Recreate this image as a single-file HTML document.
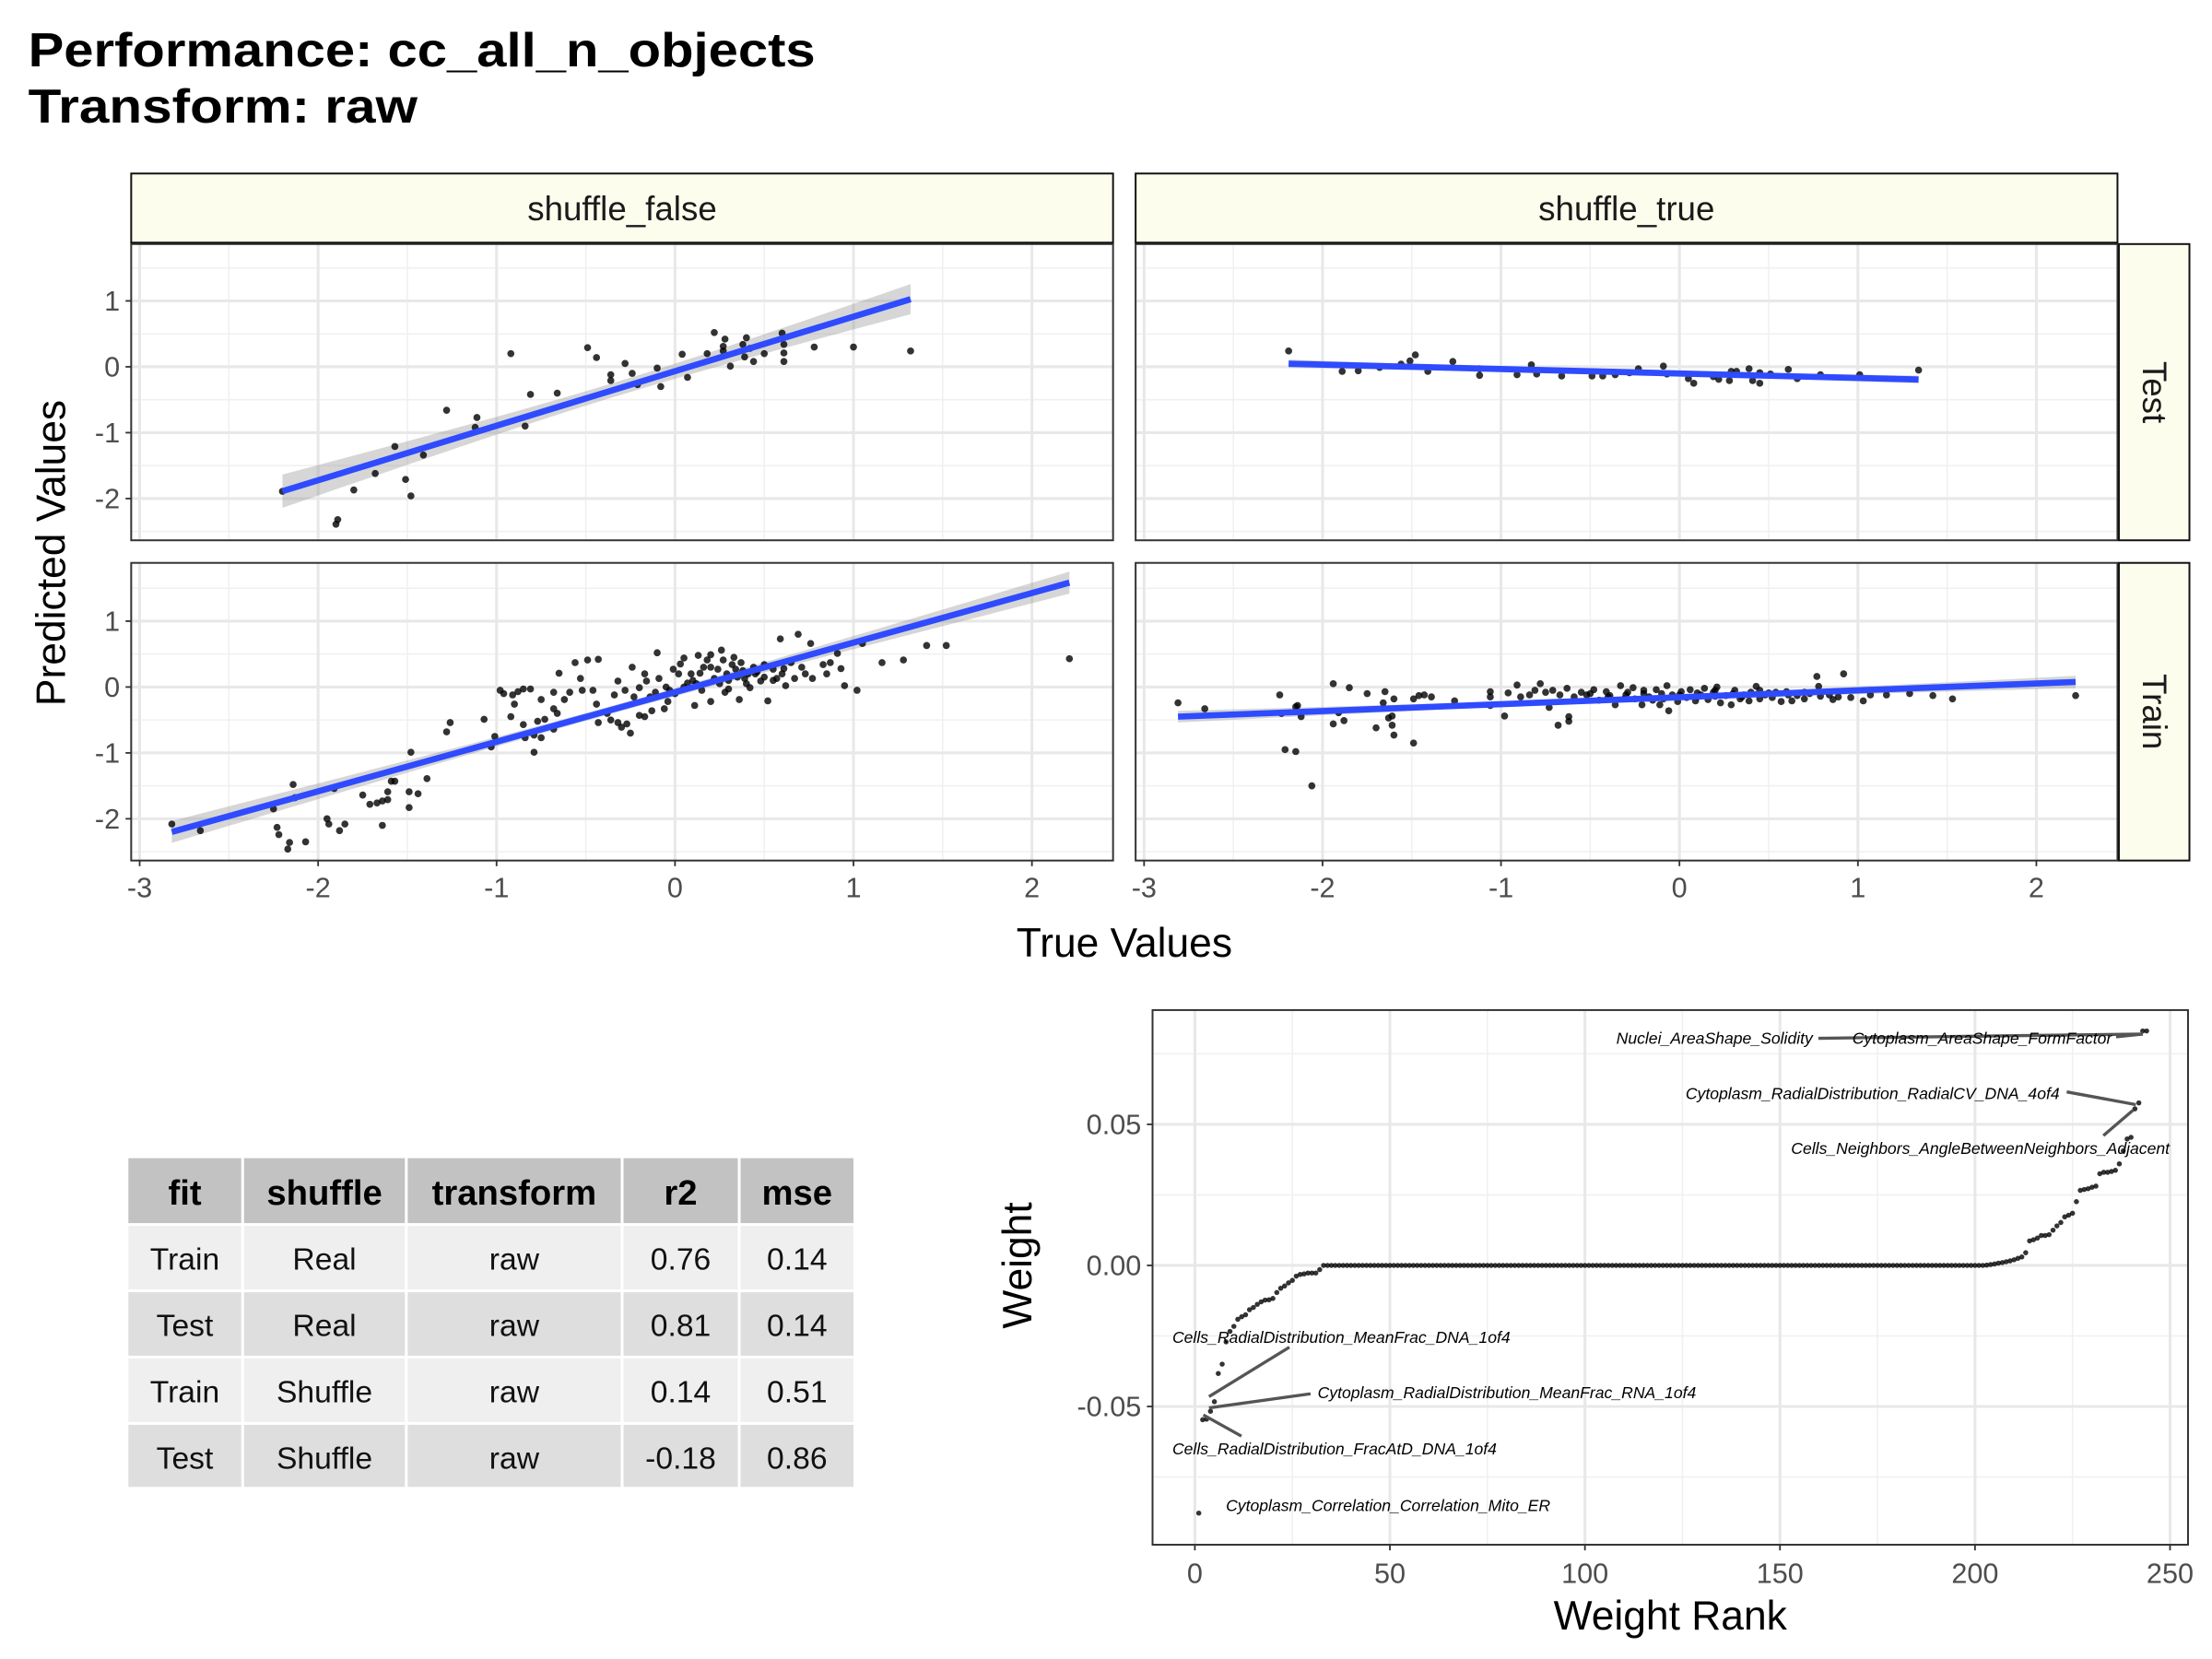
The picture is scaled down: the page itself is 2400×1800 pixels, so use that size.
<!DOCTYPE html>
<html><head><meta charset="utf-8"><style>
html,body{margin:0;padding:0;background:#fff;}
svg{display:block;font-family:"Liberation Sans",Arial,sans-serif;}
</style></head><body>
<svg id="fig" xmlns="http://www.w3.org/2000/svg" width="2400" height="1800" viewBox="0 0 1568 1176">
<rect x="0" y="0" width="1568" height="1176" fill="#fff"/>
<text x="20" y="47" font-size="34" font-weight="bold" fill="#000" textLength="558" lengthAdjust="spacingAndGlyphs">Performance: cc_all_n_objects</text>
<text x="20" y="87" font-size="34" font-weight="bold" fill="#000" textLength="276" lengthAdjust="spacingAndGlyphs">Transform: raw</text>
<g id="facets"></g>
<g id="weights"></g>
<g id="table"></g>
</svg>
<script>
// ---------- scatter data (true, predicted) ----------
const testRealTrue = [-2.20,-1.90,-1.89,-1.80,-1.68,-1.57,-1.51,-1.48,-1.41,-1.28,-1.12,-1.11,-0.92,-0.84,-0.81,-0.66,-0.49,-0.44,-0.36,-0.36,-0.28,-0.24,-0.21,-0.10,-0.08,0.04,0.07,0.18,0.22,0.27,0.28,0.27,0.31,0.38,0.40,0.42,0.44,0.39,0.50,0.60,0.61,0.61,0.61,0.78,1.00,1.32];
const testRealPred = [-1.89,-2.39,-2.32,-1.87,-1.62,-1.21,-1.71,-1.96,-1.34,-0.66,-0.92,-0.77,0.20,-0.90,-0.42,-0.40,0.29,0.14,-0.21,-0.12,0.05,-0.10,-0.27,-0.02,-0.30,0.19,-0.16,0.20,0.52,0.31,0.42,0.24,0.01,0.34,0.44,0.28,0.08,0.15,0.20,0.51,0.34,0.21,0.08,0.30,0.30,0.24];

const testShufTrue = [-2.19,-1.89,-1.80,-1.68,-1.56,-1.51,-1.48,-1.41,-1.27,-1.12,-1.12,-0.91,-0.83,-0.80,-0.66,-0.49,-0.43,-0.36,-0.28,-0.23,-0.09,-0.07,0.05,0.08,0.19,0.22,0.28,0.29,0.32,0.39,0.41,0.45,0.45,0.51,0.61,0.66,0.79,1.01,1.34];
const testShufPred = [0.24,-0.07,-0.06,-0.01,0.04,0.09,0.18,-0.07,0.08,-0.13,-0.03,-0.12,0.03,-0.11,-0.14,-0.14,-0.14,-0.12,-0.09,-0.03,0.01,-0.11,-0.18,-0.25,-0.15,-0.19,-0.21,-0.07,-0.07,-0.03,-0.21,-0.25,-0.09,-0.11,-0.04,-0.18,-0.12,-0.12,-0.05];

const trainRealTrue = [-2.82,-2.66,-2.25,-2.23,-2.22,-2.17,-2.16,-2.14,-2.13,-2.07,-1.95,-1.94,-1.88,-1.85,-1.91,-1.75,-1.71,-1.67,-1.64,-1.61,-1.64,-1.61,-1.59,-1.57,-1.49,-1.49,-1.44,-1.48,-1.39,-1.28,-1.26,-1.07,-1.03,-1.01,-0.98,-0.96,-0.91,-0.88,-0.85,-0.81,-0.92,-0.90,-0.85,-0.84,-0.79,-0.75,-0.79,-0.77,-0.75,-0.73,-0.68,-0.68,-0.66,-0.65,-0.68,-0.62,-0.59,-0.56,-0.53,-0.52,-0.49,-0.46,-0.43,-0.44,-0.43,-0.38,-0.36,-0.32,-0.30,-0.25,-0.27,-0.34,-0.32,-0.28,-0.24,-0.23,-0.20,-0.17,-0.16,-0.14,-0.11,-0.10,-0.09,-0.06,-0.04,-0.03,-0.20,-0.17,-0.13,-0.01,0.02,0.03,0.05,0.07,0.09,0.11,0.13,0.14,0.16,0.18,0.20,0.20,0.22,0.24,0.26,0.27,0.29,0.30,0.32,0.34,0.36,0.37,0.39,0.41,0.42,0.44,0.46,0.48,0.50,0.52,0.55,0.57,0.59,0.61,0.62,0.65,0.67,0.69,0.71,0.73,0.76,0.77,0.83,0.85,0.87,0.91,0.93,0.95,1.02,1.05,1.16,1.28,1.41,1.52,2.21,0.05,0.10,0.15,0.25,0.30,0.35,0.40,0.45,0.50,0.55,0.60,0.20,-0.05,0.00,0.12,0.28,0.33,0.38];
const trainRealPred = [-2.08,-2.18,-1.85,-2.13,-2.24,-2.46,-2.36,-1.48,-1.68,-2.35,-2.00,-2.08,-2.18,-2.08,-1.54,-1.64,-1.78,-1.76,-1.73,-1.71,-2.10,-1.59,-1.43,-1.43,-1.83,-1.59,-1.62,-0.99,-1.39,-0.68,-0.54,-0.49,-0.91,-0.75,-0.05,-0.10,-0.12,-0.07,-0.03,-0.03,-0.45,-0.26,-0.57,-0.77,-0.73,-0.77,-0.99,-0.52,-0.19,-0.49,-0.33,-0.64,-0.40,0.21,-0.08,-0.19,-0.08,0.37,0.13,-0.05,0.41,-0.05,0.42,-0.26,-0.54,-0.40,-0.50,-0.54,-0.61,-0.70,-0.56,-0.12,0.09,-0.05,0.30,-0.15,-0.01,0.20,0.09,-0.15,-0.08,0.52,0.13,-0.33,-0.22,-0.05,-0.43,-0.45,-0.36,0.27,0.20,0.35,0.44,0.06,0.20,-0.28,0.48,0.21,0.30,0.41,0.49,-0.22,0.13,0.27,0.56,0.41,0.20,-0.03,0.34,0.27,-0.19,0.37,0.13,0.20,-0.01,0.30,0.23,0.09,0.34,-0.21,0.27,0.13,0.73,0.28,0.02,0.37,0.13,0.80,0.30,0.20,0.66,0.13,0.34,0.20,0.37,0.51,0.28,0.02,-0.05,0.66,0.37,0.41,0.63,0.63,0.43,0.00,0.10,-0.05,0.05,0.10,0.15,0.05,0.20,0.15,0.10,0.20,0.30,0.00,-0.10,0.05,-0.08,0.45,0.25];

const trainShufTrue = [-2.81,-2.66,-2.24,-2.23,-2.21,-2.15,-2.15,-2.14,-2.12,-2.06,-1.94,-1.85,-1.94,-1.88,-1.91,-1.75,-1.70,-1.65,-1.66,-1.63,-1.61,-1.61,-1.60,-1.60,-1.49,-1.46,-1.43,-1.39,-1.49,-1.26,-1.06,-1.06,-1.06,-0.98,-0.96,-0.91,-0.89,-0.84,-0.81,-0.78,-0.75,-0.73,-0.71,-0.67,-0.63,-0.68,-0.62,-0.62,-0.59,-0.55,-0.52,-0.48,-0.45,-0.41,-0.39,-0.36,-0.33,-0.31,-0.29,-0.26,-0.25,-0.21,-0.20,-0.17,-0.13,-0.11,-0.09,-0.07,-0.06,-0.04,-0.01,0.01,0.04,0.06,0.09,0.12,0.14,0.16,0.19,0.21,0.23,0.26,0.29,0.31,0.34,0.36,0.39,0.43,0.45,0.48,0.52,0.54,0.57,0.61,0.63,0.66,0.70,0.73,0.77,0.78,0.79,0.84,0.86,0.89,0.92,0.96,1.03,1.07,1.16,1.29,1.42,1.53,2.22,-0.50,-0.40,-0.30,-0.20,-0.10,0.00,0.10,0.20,0.30,0.40,0.50,0.60,0.70,0.10,0.20,-0.15,0.35,0.45];
const trainShufPred = [-0.24,-0.33,-0.12,-0.40,-0.95,-0.98,-0.30,-0.28,-0.45,-1.50,0.05,-0.01,-0.56,-0.51,-0.39,-0.10,-0.62,-0.07,-0.24,-0.47,-0.44,-0.58,-0.73,-0.18,-0.18,-0.13,-0.12,-0.15,-0.85,-0.21,-0.07,-0.15,-0.28,-0.44,-0.09,0.03,-0.15,-0.12,-0.05,0.05,-0.08,-0.31,-0.05,-0.12,-0.02,-0.58,-0.45,-0.52,-0.15,-0.08,-0.12,-0.04,-0.20,-0.07,-0.13,-0.27,0.02,-0.18,-0.08,-0.01,-0.18,-0.27,-0.05,-0.15,-0.04,-0.27,-0.18,0.02,-0.36,-0.12,-0.22,-0.07,-0.16,-0.04,-0.21,-0.12,-0.02,-0.19,-0.08,0.00,-0.24,-0.13,-0.27,-0.05,-0.18,-0.12,-0.21,0.01,-0.18,-0.12,-0.16,-0.08,-0.22,-0.12,-0.21,-0.13,-0.18,-0.10,0.16,0.01,-0.14,-0.12,-0.19,-0.15,0.20,-0.16,-0.21,-0.12,-0.12,-0.10,-0.13,-0.18,-0.13,-0.10,-0.15,-0.12,-0.10,-0.10,-0.12,-0.09,-0.14,-0.10,-0.08,-0.09,-0.07,-0.08,-0.15,-0.05,-0.20,-0.15,-0.05];

const xTickLabels = ["-3","-2","-1","0","1","2"];
const xTickValues = [-3,-2,-1,0,1,2];
const yTickLabels = ["1","0","-1","-2"];
const yTickValues = [1,0,-1,-2];
const colFacets = ["shuffle_false","shuffle_true"];
const rowFacets = ["Test","Train"];

// ---------- weights (sorted by rank) ----------
const weightNeg = [-0.0878,-0.0547,-0.0545,-0.0517,-0.0483,-0.0383,-0.0350,-0.0271,-0.0234,-0.0216,-0.0191,-0.0182,-0.0175,-0.0157,-0.0149,-0.0138,-0.0129,-0.0123,-0.0122,-0.0117,-0.0096,-0.0081,-0.0073,-0.0062,-0.0053,-0.0038,-0.0032,-0.0030,-0.0027,-0.0027,-0.0027,-0.0015];
const weightZero = [0,0,0,0,0,0,0,0,0,0,0,0,0,0,0,0,0,0,0,0,
0,0,0,0,0,0,0,0,0,0,0,0,0,0,0,0,0,0,0,0,
0,0,0,0,0,0,0,0,0,0,0,0,0,0,0,0,0,0,0,0,
0,0,0,0,0,0,0,0,0,0,0,0,0,0,0,0,0,0,0,0,
0,0,0,0,0,0,0,0,0,0,0,0,0,0,0,0,0,0,0,0,
0,0,0,0,0,0,0,0,0,0,0,0,0,0,0,0,0,0,0,0,
0,0,0,0,0,0,0,0,0,0,0,0,0,0,0,0,0,0,0,0,
0,0,0,0,0,0,0,0,0,0,0,0,0,0,0,0,0,0,0,0,
0,0,0,0,0,0,0,0,0,0];
const weightPos = [0.0001,0.0003,0.0005,0.0008,0.0010,0.0013,0.0016,0.0020,0.0025,0.0030,0.0045,0.0087,0.0091,0.0097,0.0106,0.0106,0.0109,0.0125,0.0140,0.0152,0.0172,0.0178,0.0185,0.0226,0.0266,0.0269,0.0272,0.0277,0.0281,0.0325,0.0330,0.0330,0.0333,0.0337,0.0360,0.0406,0.0448,0.0454,0.0555,0.0576,0.0831,0.0831];
const wxTickLabels = ["0","50","100","150","200","250"];
const wxTickValues = [0,50,100,150,200,250];
const wyTickLabels = ["0.05","0.00","-0.05"];
const wyTickValues = [0.05,0,-0.05];

// ---------- table ----------
const tableHeader = ["fit","shuffle","transform","r2","mse"];
const tableFit = ["Train","Test","Train","Test"];
const tableShuffle = ["Real","Real","Shuffle","Shuffle"];
const tableTransform = ["raw","raw","raw","raw"];
const tableR2 = ["0.76","0.81","0.14","-0.18"];
const tableMse = ["0.14","0.14","0.51","0.86"];

const NS = "http://www.w3.org/2000/svg";
function mk(tag, attrs, parent){
  const e = document.createElementNS(NS, tag);
  for (const k in attrs) e.setAttribute(k, attrs[k]);
  parent.appendChild(e);
  return e;
}
const TICK_FS = 20;

// ================= facet grid =================
const facets = document.getElementById('facets');
const panelX = [[93,789],[805,1501]];
const panelY = [[173,383],[399,610]];
const yZeroPix = [260,487];
const xUnit = 126.5, yUnit = 46.7;
const seriesX = [[testRealTrue,testShufTrue],[trainRealTrue,trainShufTrue]];
const seriesY = [[testRealPred,testShufPred],[trainRealPred,trainShufPred]];

function fitLm(xs, ys){
  const n = xs.length;
  let mx=0,my=0; for(let i=0;i<n;i++){mx+=xs[i];my+=ys[i];} mx/=n; my/=n;
  let sxx=0,sxy=0; for(let i=0;i<n;i++){sxx+=(xs[i]-mx)**2; sxy+=(xs[i]-mx)*(ys[i]-my);}
  const b = sxy/sxx, a = my-b*mx;
  let sse=0; for(let i=0;i<n;i++){sse+=(ys[i]-a-b*xs[i])**2;}
  const s = Math.sqrt(sse/(n-2));
  return {a,b,s,n,mx,sxx};
}

for (let r=0;r<2;r++){
  for (let c=0;c<2;c++){
    const [x0,x1] = panelX[c], [y0,y1] = panelY[r];
    const sx = v => x0 + 6 + (v+3)*xUnit;
    const sy = v => yZeroPix[r] - v*yUnit;
    const g = mk('g', {}, facets);
    
    
    mk('rect', {x:x0,y:y0,width:x1-x0,height:y1-y0,fill:'#fff'}, g);
    for (let v=-2.5; v<=2.5; v+=1){
      const px = sx(v); if (px<=x0||px>=x1) continue;
      const l = mk('line',{x1:px,x2:px,y1:y0,y2:y1,stroke:'#f0f0f0','stroke-width':1}, g);
      
      
    }
    for (let v=-2.5; v<=1.5; v+=1){
      const py = sy(v); if (py<=y0||py>=y1) continue;
      const l = mk('line',{x1:x0,x2:x1,y1:py,y2:py,stroke:'#f0f0f0','stroke-width':1}, g);
      
      
    }
    xTickValues.forEach(v=>{
      const px = sx(v);
      const l = mk('line',{x1:px,x2:px,y1:y0,y2:y1,stroke:'#e8e8e8','stroke-width':2}, g);
      
      
    });
    yTickValues.forEach(v=>{
      const py = sy(v);
      const l = mk('line',{x1:x0,x2:x1,y1:py,y2:py,stroke:'#e8e8e8','stroke-width':2}, g);
      
      
    });
    const xs = seriesX[r][c], ys = seriesY[r][c];
    const fit = fitLm(xs, ys);
    const xmin = Math.min(...xs), xmax = Math.max(...xs);
    const up=[], lo=[];
    for (let i=0;i<=40;i++){
      const xv = xmin + (xmax-xmin)*i/40;
      const yv = fit.a + fit.b*xv;
      const se = fit.s*Math.sqrt(1/fit.n + (xv-fit.mx)**2/fit.sxx)*1.97;
      up.push(sx(xv)+','+sy(yv+se)); lo.unshift(sx(xv)+','+sy(yv-se));
    }
    const band = mk('polygon',{points:up.concat(lo).join(' '),fill:'#999999','fill-opacity':0.4}, g);
    
    
    for (let i=0;i<xs.length;i++){
      const p = mk('circle',{cx:sx(xs[i]),cy:sy(ys[i]),r:2.5,fill:'#000','fill-opacity':0.8}, g);
      
      
    }
    const ln = mk('line',{x1:sx(xmin),y1:sy(fit.a+fit.b*xmin),x2:sx(xmax),y2:sy(fit.a+fit.b*xmax),stroke:'#2F4BFF','stroke-width':4.4}, g);
    
    
    mk('rect',{x:x0,y:y0,width:x1-x0,height:y1-y0,fill:'none',stroke:'#333','stroke-width':1.3}, g);
    if (c===0){
      yTickValues.forEach((v,i)=>{
        mk('line',{x1:x0-4,x2:x0,y1:sy(v),y2:sy(v),stroke:'#333','stroke-width':1.2}, g);
        const t = mk('text',{x:x0-8,y:sy(v)+7,'font-size':TICK_FS,'text-anchor':'end',fill:'#4d4d4d'}, g);
        
        
        t.textContent = yTickLabels[i];
      });
    }
    if (r===1){
      xTickValues.forEach((v,i)=>{
        mk('line',{x1:sx(v),x2:sx(v),y1:y1,y2:y1+4,stroke:'#333','stroke-width':1.2}, g);
        const t = mk('text',{x:sx(v),y:y1+26,'font-size':TICK_FS,'text-anchor':'middle',fill:'#4d4d4d'}, g);
        
        
        t.textContent = xTickLabels[i];
      });
    }
  }
}
colFacets.forEach((name,c)=>{
  const [x0,x1] = panelX[c];
  const s = mk('rect',{x:x0,y:123,width:x1-x0,height:49,fill:'#fdfdee',stroke:'#111','stroke-width':1.3}, facets);
  
  
  const t = mk('text',{x:(x0+x1)/2,y:156,'font-size':24,'text-anchor':'middle',fill:'#1a1a1a'}, facets);
  
  
  t.textContent = name;
});
rowFacets.forEach((name,r)=>{
  const [y0,y1] = panelY[r];
  const s = mk('rect',{x:1502,y:y0,width:50,height:y1-y0,fill:'#fdfdee',stroke:'#111','stroke-width':1.3}, facets);
  
  
  const cy=(y0+y1)/2;
  const t = mk('text',{x:1519,y:cy,'font-size':24,'text-anchor':'middle',fill:'#1a1a1a',transform:'rotate(90 1519 '+cy+')'}, facets);
  
  
  t.textContent = name;
});
const xt = mk('text',{x:797,y:678,'font-size':29,'text-anchor':'middle',fill:'#000'}, facets);


xt.textContent = 'True Values';
const yt = mk('text',{x:46,y:392,'font-size':29,'text-anchor':'middle',fill:'#000',transform:'rotate(-90 46 392)'}, facets);


yt.textContent = 'Predicted Values';

// ================= weight plot =================
const W = document.getElementById('weights');
const wx0=817, wx1=1551, wy0=716, wy1=1095;
const wsx = r => 847 + r*2.765;
const wsy = v => 897 - v*2000;
mk('rect',{x:wx0,y:wy0,width:wx1-wx0,height:wy1-wy0,fill:'#fff'}, W);
[25,75,125,175,225].forEach(v=>{
  const l = mk('line',{x1:wsx(v),x2:wsx(v),y1:wy0,y2:wy1,stroke:'#f0f0f0','stroke-width':1}, W);
  
  
});
[-0.075,-0.025,0.025,0.075].forEach(v=>{
  const l = mk('line',{x1:wx0,x2:wx1,y1:wsy(v),y2:wsy(v),stroke:'#f0f0f0','stroke-width':1}, W);
  
  
});
wxTickValues.forEach(v=>{
  const l = mk('line',{x1:wsx(v),x2:wsx(v),y1:wy0,y2:wy1,stroke:'#e8e8e8','stroke-width':2}, W);
  
  
});
wyTickValues.forEach(v=>{
  const l = mk('line',{x1:wx0,x2:wx1,y1:wsy(v),y2:wsy(v),stroke:'#e8e8e8','stroke-width':2}, W);
  
  
});
const weights = weightNeg.concat(weightZero, weightPos);
weights.forEach((w,i)=>{
  const p = mk('circle',{cx:wsx(i+1),cy:wsy(w),r:1.8,fill:'#000','fill-opacity':0.8}, W);
  
  
});
const annText = ["Nuclei_AreaShape_Solidity","Cytoplasm_AreaShape_FormFactor","Cytoplasm_RadialDistribution_RadialCV_DNA_4of4","Cells_Neighbors_AngleBetweenNeighbors_Adjacent","Cells_RadialDistribution_MeanFrac_DNA_1of4","Cytoplasm_RadialDistribution_MeanFrac_RNA_1of4","Cells_RadialDistribution_FracAtD_DNA_1of4","Cytoplasm_Correlation_Correlation_Mito_ER"];
const annGeom = [[1285,740,'end',1289,736,1519,733],[1313,740,'start',1500,735,1519,733],[1460,779,'end',1465,774,1514,783],[1538,818,'end',1491,805,1512,787],[831,952,'start',914,955,857,990],[934,991,'start',929,988,857,998],[831,1031,'start',880,1018,853,1003],[869,1071,'start',0,0,0,0]];
annText.forEach((s,i)=>{
  const g = annGeom[i];
  if (g[3]){
    const l = mk('line',{x1:g[3],y1:g[4],x2:g[5],y2:g[6],stroke:'#555','stroke-width':2.2}, W);
    
    
  }
  const t = mk('text',{x:g[0],y:g[1],'font-size':11.5,'font-style':'italic','text-anchor':g[2],fill:'#000'}, W);
  
  
  t.textContent = s;
});
mk('rect',{x:wx0,y:wy0,width:wx1-wx0,height:wy1-wy0,fill:'none',stroke:'#333','stroke-width':1.3}, W);
wxTickValues.forEach((v,i)=>{
  mk('line',{x1:wsx(v),x2:wsx(v),y1:wy1,y2:wy1+4,stroke:'#333','stroke-width':1.2}, W);
  const t = mk('text',{x:wsx(v),y:wy1+27,'font-size':TICK_FS,'text-anchor':'middle',fill:'#4d4d4d'}, W);
  
  
  t.textContent = wxTickLabels[i];
});
wyTickValues.forEach((v,i)=>{
  mk('line',{x1:wx0-4,x2:wx0,y1:wsy(v),y2:wsy(v),stroke:'#333','stroke-width':1.2}, W);
  const t = mk('text',{x:wx0-8,y:wsy(v)+7,'font-size':TICK_FS,'text-anchor':'end',fill:'#4d4d4d'}, W);
  
  
  t.textContent = wyTickLabels[i];
});
const wxt = mk('text',{x:1184,y:1155,'font-size':29,'text-anchor':'middle',fill:'#000'}, W);


wxt.textContent = 'Weight Rank';
const wyt = mk('text',{x:731,y:897,'font-size':29,'text-anchor':'middle',fill:'#000',transform:'rotate(-90 731 897)'}, W);


wyt.textContent = 'Weight';

// ================= table =================
const T = document.getElementById('table');
const colX = [91,173,289,442,525,607];
const rowY = [821,869,916,963,1010,1056];
tableHeader.forEach((h,c)=>{
  const cell = mk('rect',{x:colX[c],y:rowY[0],width:colX[c+1]-colX[c]-2,height:rowY[1]-rowY[0]-2,fill:'#c2c2c2'}, T);
  
  
  const t = mk('text',{x:(colX[c]+colX[c+1]-2)/2,y:rowY[0]+33,'font-size':25,'font-weight':'bold','text-anchor':'middle',fill:'#000'}, T);
  
  
  t.textContent = h;
});
const cols = [tableFit,tableShuffle,tableTransform,tableR2,tableMse];
for (let r=0;r<4;r++){
  for (let c=0;c<5;c++){
    const cell = mk('rect',{x:colX[c],y:rowY[r+1],width:colX[c+1]-colX[c]-2,height:rowY[r+2]-rowY[r+1]-2,fill:(r%2===0)?'#efefef':'#dedede'}, T);
    
    
    const t = mk('text',{x:(colX[c]+colX[c+1]-2)/2,y:rowY[r+1]+31,'font-size':22,'text-anchor':'middle',fill:'#111'}, T);
    
    
    t.textContent = cols[c][r];
  }
}
</script>
</body></html>
